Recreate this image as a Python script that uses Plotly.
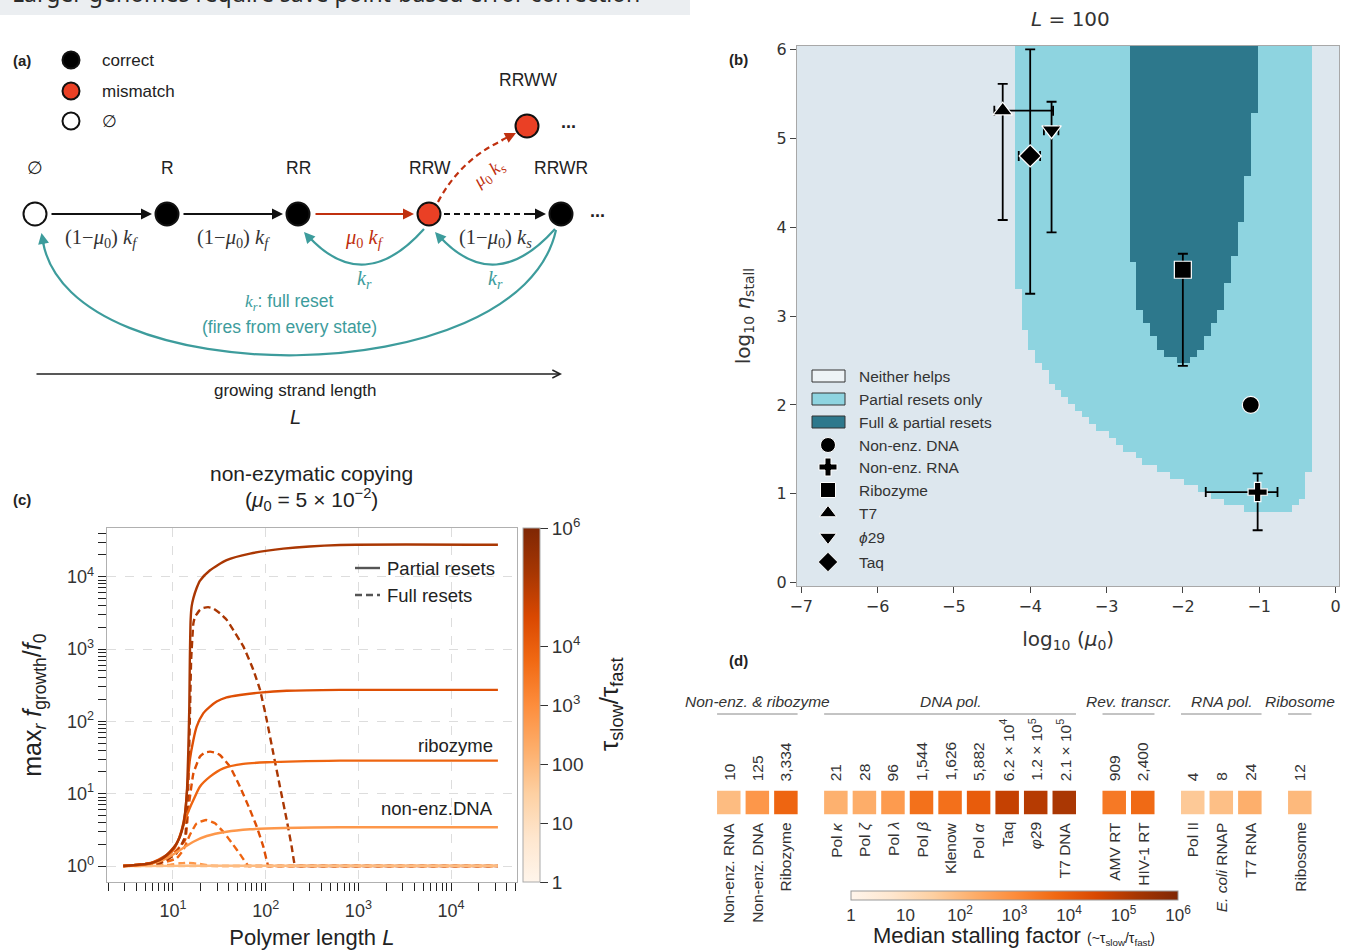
import numpy as np
import plotly.graph_objects as go

W, H = 1351, 950
SANS = "Liberation Sans, Arial, sans-serif"
NARROW = "Liberation Sans Narrow, Arial Narrow, Liberation Sans, sans-serif"
DEJAVU = "DejaVu Sans, sans-serif"
SERIF = "Liberation Serif, DejaVu Serif, serif"


def px(x):
    return x / W


def py(y):
    return 1 - y / H


# ---------------- Panel (b): regime map at L = 100 ----------------
partial_x_edges = [-4.203, -4.11, -4.03, -3.94, -3.85, -3.76, -3.67, -3.59, -3.51, -3.41,
                   -3.32, -3.23, -3.14, -2.97, -2.88, -2.78, -2.61, -2.53, -2.34, -2.17,
                   -1.99, -1.80, -1.63, -1.46, -1.20, -0.57, -0.48, -0.40, -0.305]
partial_lo_eta = [3.30, 2.84, 2.62, 2.47, 2.39, 2.24, 2.17, 2.09, 2.01, 1.93,
                  1.86, 1.78, 1.71, 1.63, 1.55, 1.47, 1.40, 1.32, 1.25, 1.17,
                  1.10, 1.02, 0.94, 0.87, 0.80, 0.87, 0.94, 1.25]
full_x_edges = [-2.697, -2.61, -2.52, -2.43, -2.34, -2.25, -2.08, -1.90, -1.82, -1.72,
                -1.63, -1.55, -1.46, -1.37, -1.28, -1.20, -1.11, -1.015]
full_lo_eta = [3.61, 3.07, 2.92, 2.77, 2.62, 2.54, 2.47, 2.54, 2.62, 2.77,
               2.92, 3.07, 3.37, 3.67, 4.06, 4.58, 5.28]
map_x_range = [-7.055, 0.051]
map_y_range = [-0.037, 6.037]
region_labels = ["Neither helps", "Partial resets only", "Full &amp; partial resets"]
region_colors = ["#dde7ee", "#8ed4e0", "#2d788c"]

sys_names = ["Non-enz. DNA", "Non-enz. RNA", "Ribozyme", "T7", "<i>ϕ</i>29", "Taq"]
sys_symbols = ["circle", "cross", "square", "triangle-up", "triangle-down", "diamond"]
sys_log_mu = [-1.11, -1.02, -2.00, -4.36, -3.72, -4.00]
sys_log_eta = [2.00, 1.02, 3.52, 5.31, 5.09, 4.80]
sys_mu_err_minus = [0.0, 0.68, 0.0, 0.11, 0.10, 0.15]
sys_mu_err_plus = [0.0, 0.26, 0.0, 0.66, 0.09, 0.13]
sys_eta_err_plus = [0.0, 0.21, 0.18, 0.30, 0.32, 1.20]
sys_eta_err_minus = [0.0, 0.43, 1.08, 1.23, 1.15, 1.55]

# ---------------- Panel (c): max growth vs polymer length ----------------
curve_tau = [10, 125, 3334, 1.5e4, 2.1e5]   # tau_slow/tau_fast of each curve (light -> dark)

L_part = [
    [2.91, 10, 20, 40, 634, 32000],
    [2.91, 5.65, 8.55, 11.9, 16.6, 23.1, 37.9, 67.8, 155, 634, 32000],
    [2.91, 5.65, 8.55, 10.1, 11.9, 14.1, 16.6, 19.5, 25.1, 34.9, 57.4, 102.6, 634, 32000],
    [2.91, 5.65, 8.55, 10.96, 12.4, 13.5, 14.3, 15.2, 16.6, 18.0, 21.2, 25.1, 29.6, 37.9,
     52.8, 86.9, 168.6, 634, 32000],
    [2.91, 5.65, 7.24, 8.55, 10.1, 10.96, 11.9, 12.9, 13.5, 14.1, 14.3, 14.6, 15.0, 15.2,
     15.5, 15.9, 16.6, 18.0, 19.5, 25.1, 37.9, 67.8, 155, 634, 32000],
]
f_part = [
    [1.0, 1.005, 1.01, 1.01, 1.01, 1.01],
    [1.0, 1.066, 1.277, 1.66, 2.17, 2.60, 2.98, 3.22, 3.36, 3.43, 3.43],
    [1.0, 1.08, 1.375, 1.66, 2.6, 5.03, 8.17, 12.5, 17.2, 22.4, 25.8, 27.2, 28.7, 28.7],
    [1.0, 1.09, 1.42, 2.06, 3.15, 5.35, 12.5, 29.3, 55.4, 84.6, 129, 160, 188, 215,
     232, 250, 265, 273, 273],
    [1.0, 1.09, 1.21, 1.42, 1.76, 2.06, 2.55, 3.69, 5.35, 10.1, 15.5, 36.3, 160, 709,
     2540, 3890, 5060, 6980, 8770, 12300, 17000, 20900, 24500, 27500, 27700],
]
L_full = [
    [2.91, 32000],
    [2.91, 8.55, 11.9, 14.1, 19.5, 25.1, 32.1, 36.0, 32000],
    [2.91, 8.55, 10.96, 12.9, 15.2, 18.0, 22.7, 28.4, 34.9, 44.8, 55.1, 65.0, 68.0, 32000],
    [2.91, 8.55, 13.5, 14.6, 16.6, 19.5, 22.0, 25.1, 28.5, 32.1, 41.2, 52.8, 67.8, 80.0,
     94.4, 106.7, 111.0, 32000],
    [2.91, 7.24, 10.96, 13.5, 14.6, 15.2, 15.7, 16.6, 17.3, 19.5, 21.2, 24.0, 27.2, 32.1,
     37.9, 44.8, 57.4, 73.5, 86.9, 102.6, 120.8, 142.6, 168.6, 190.8, 207, 214, 32000],
]
f_full = [
    [1.0, 1.0],
    [1.0, 1.03, 1.09, 1.11, 1.066, 1.01, 1.0, 1.0, 1.0],
    [1.0, 1.148, 1.277, 1.66, 2.69, 3.89, 4.33, 3.89, 2.98, 1.95, 1.35, 1.0, 1.0, 1.0],
    [1.0, 1.21, 2.29, 5.96, 19.1, 32.5, 37.0, 38.2, 37.0, 34.3, 23.7, 12.5, 5.96, 3.50,
     1.85, 1.0, 1.0, 1.0],
    [1.0, 1.09, 1.50, 2.55, 12.5, 104.7, 709, 2270, 2810, 3470, 3700, 3800, 3640, 3120,
     2540, 1826, 1088, 518, 273, 104.7, 36.3, 12.5, 4.33, 1.85, 1.0, 1.0, 1.0],
]

# ---------------- Panel (d): median stalling factors ----------------
group_names = ["Non-enz. &amp; ribozyme", "DNA pol.", "Rev. transcr.", "RNA pol.", "Ribosome"]
group_sizes = [3, 9, 2, 3, 1]
enz_names = ["Non-enz. RNA", "Non-enz. DNA", "Ribozyme",
             "Pol <i>κ</i>", "Pol <i>ζ</i>", "Pol <i>λ</i>", "Pol <i>β</i>", "Klenow", "Pol <i>α</i>",
             "Taq", "<i>φ</i>29", "T7 DNA",
             "AMV RT", "HIV-1 RT",
             "Pol II", "<i>E. coli</i> RNAP", "T7 RNA",
             "Ribosome"]
stall_factor = [10, 125, 3334, 21, 28, 96, 1544, 1626, 5882, 6.2e4, 1.2e5, 2.1e5,
                909, 2400, 4, 8, 24, 12]
stall_text = ["10", "125", "3,334", "21", "28", "96", "1,544", "1,626", "5,882",
              "6.2 × 10<sup>4</sup>", "1.2 × 10<sup>5</sup>", "2.1 × 10<sup>5</sup>",
              "909", "2,400", "4", "8", "24", "12"]

# ---------------- colour helpers ----------------
ORANGES = ['#fff5eb', '#fee6ce', '#fdd0a2', '#fdae6b', '#fd8d3c',
           '#f16913', '#d94801', '#a63603', '#7f2704']


def _rgb(h):
    h = h.lstrip('#')
    return [int(h[i:i + 2], 16) for i in (0, 2, 4)]


def oranges(t):
    t = min(max(t, 0.0), 1.0) * (len(ORANGES) - 1)
    i = min(int(t), len(ORANGES) - 2)
    f = t - i
    a, b = _rgb(ORANGES[i]), _rgb(ORANGES[i + 1])
    return 'rgb(%d,%d,%d)' % tuple(round(x + (y - x) * f) for x, y in zip(a, b))


def tau_color(v):
    return oranges(0.2 + 0.75 * np.log10(v) / 6.0)


trunc_oranges = [[k / 20, oranges(0.2 + 0.75 * k / 20)] for k in range(21)]

fig = go.Figure()

# ---------- (b) heatmap ----------
xe = sorted(set(map_x_range + partial_x_edges + full_x_edges))
ye = sorted(set(map_y_range + partial_lo_eta + full_lo_eta))
z = []
for j in range(len(ye) - 1):
    yc = 0.5 * (ye[j] + ye[j + 1])
    row = []
    for i in range(len(xe) - 1):
        xc = 0.5 * (xe[i] + xe[i + 1])
        v = 0
        k = int(np.searchsorted(partial_x_edges, xc)) - 1
        if 0 <= k < len(partial_lo_eta) and yc >= partial_lo_eta[k]:
            v = 1
        k2 = int(np.searchsorted(full_x_edges, xc)) - 1
        if 0 <= k2 < len(full_lo_eta) and yc >= full_lo_eta[k2]:
            v = 2
        row.append(v)
    z.append(row)
disc = [[0, region_colors[0]], [1 / 3, region_colors[0]], [1 / 3, region_colors[1]],
        [2 / 3, region_colors[1]], [2 / 3, region_colors[2]], [1, region_colors[2]]]
fig.add_trace(go.Heatmap(x=xe, y=ye, z=z, zmin=0, zmax=2, colorscale=disc, showscale=False,
                         xaxis='x', yaxis='y', hoverinfo='skip'))

for n, s, mx, my, mxm, mxp, myp, mym in zip(sys_names, sys_symbols, sys_log_mu, sys_log_eta,
                                           sys_mu_err_minus, sys_mu_err_plus,
                                           sys_eta_err_plus, sys_eta_err_minus):
    fig.add_trace(go.Scatter(
        x=[mx], y=[my], mode='markers', name=n, showlegend=False, xaxis='x', yaxis='y',
        marker=dict(symbol=s, size=17 if s != 'cross' else 16, color='black',
                    line=dict(color='white', width=1.2)),
        error_x=dict(type='data', symmetric=False, array=[mxp], arrayminus=[mxm],
                     color='black', thickness=1.8, width=5, visible=(mxp + mxm) > 0),
        error_y=dict(type='data', symmetric=False, array=[myp], arrayminus=[mym],
                     color='black', thickness=1.8, width=5, visible=(myp + mym) > 0)))

# ---------- (c) curves ----------
for k in range(len(curve_tau)):
    col = tau_color(curve_tau[k])
    fig.add_trace(go.Scatter(x=L_full[k], y=f_full[k], mode='lines', xaxis='x2', yaxis='y2',
                             showlegend=False,
                             line=dict(color=col, width=2.4, dash='7px,4px', shape='spline',
                                       smoothing=0.35)))
for k in range(len(curve_tau)):
    col = tau_color(curve_tau[k])
    fig.add_trace(go.Scatter(x=L_part[k], y=f_part[k], mode='lines', xaxis='x2', yaxis='y2',
                             showlegend=False,
                             line=dict(color=col, width=2.4, shape='spline', smoothing=0.6)))
fig.add_trace(go.Scatter(x=[None], y=[None], mode='markers', xaxis='x2', yaxis='y2',
                         showlegend=False, marker=dict(color=[0], coloraxis='coloraxis')))

# ---------- (d) squares ----------
positions = []
p = 0.0
for gi, gs in enumerate(group_sizes):
    for _ in range(gs):
        positions.append(p)
        p += 1.0
    p += 0.75
fig.add_trace(go.Scatter(x=positions, y=[0] * len(positions), mode='markers', xaxis='x3',
                         yaxis='y3', showlegend=False,
                         marker=dict(symbol='square', size=23.5, color=np.log10(stall_factor),
                                     colorscale=trunc_oranges, cmin=0, cmax=6,
                                     line=dict(width=0))))
fig.add_trace(go.Scatter(x=[None], y=[None], mode='markers', xaxis='x3', yaxis='y3',
                         showlegend=False, marker=dict(color=[0], coloraxis='coloraxis2')))

# ---------- canvas (pixel coordinates) for panel (a) & legends ----------
RED = '#ea4025'
RED_DARK = '#c0300f'
TEAL = '#3d9c9c'
node_x = [35, 167, 298, 429, 561, 527]
node_y = [214, 214, 214, 214, 214, 126]
node_fill = ['white', 'black', 'black', RED, 'black', RED]
fig.add_trace(go.Scatter(x=node_x, y=node_y, mode='markers', xaxis='x4', yaxis='y4',
                         showlegend=False,
                         marker=dict(size=23, color=node_fill, line=dict(color='#111', width=2))))
fig.add_trace(go.Scatter(x=[71, 71, 71], y=[60, 91, 121], mode='markers', xaxis='x4', yaxis='y4',
                         showlegend=False,
                         marker=dict(size=17, color=['black', RED, 'white'],
                                     line=dict(color='#111', width=2))))
leg_b_y = [376, 399, 422, 445, 467, 490, 513, 537, 562]
fig.add_trace(go.Scatter(x=[828] * 6, y=leg_b_y[3:], mode='markers', xaxis='x4', yaxis='y4',
                         showlegend=False,
                         marker=dict(symbol=sys_symbols, size=15, color='black',
                                     line=dict(color='white', width=1))))

shapes = []
ann = []


def T(text, x, y, size=17, color='#222', family=SANS, xa='center', ya='middle', angle=0,
      xref='x4', yref='y4'):
    ann.append(dict(text=text, x=x, y=y, xref=xref, yref=yref, showarrow=False,
                    font=dict(size=size, color=color, family=family),
                    xanchor=xa, yanchor=ya, textangle=angle))


def A(x0, y0, x1, y1, color, width=2.0, head=2, size=1.1):
    ann.append(dict(text='', x=x1, y=y1, ax=x0, ay=y0, xref='x4', yref='y4', axref='x4',
                    ayref='y4', showarrow=True, arrowhead=head, arrowsize=size,
                    arrowwidth=width, arrowcolor=color, standoff=0,
                    font=dict(size=10)))


# top banner
shapes.append(dict(type='rect', xref='x4', yref='y4', x0=0, x1=690, y0=-20, y1=15,
                   fillcolor='#ebeef1', line=dict(width=0), layer='below'))
T("Larger genomes require save point-based error correction", 10, 11.5, size=23,
  color='#2a2a2a', family="Noto Sans, Open Sans, sans-serif", xa='left', ya='bottom')

# panel labels
for lab, x, y in [("(a)", 22, 60), ("(b)", 738, 59), ("(c)", 22, 499), ("(d)", 738, 660)]:
    T("<b>%s</b>" % lab, x, y, size=15)

# panel (a) legend
T("correct", 100, 60, xa='left')
T("mismatch", 100, 91, xa='left')
T("∅", 100, 121, xa='left')
# node labels
for lab, x, y in [("∅", 35, 168), ("R", 167, 168), ("RR", 298, 168), ("RRW", 430, 168),
                  ("RRWR", 561, 168), ("RRWW", 528, 80)]:
    T(lab, x, y, size=17.5)
T("<b>...</b>", 597, 211, size=18)
T("<b>...</b>", 568, 122, size=18)
# forward arrows
A(50, 214, 152, 214, '#111')
A(182, 214, 283, 214, '#111')
A(314, 214, 414, 214, RED_DARK)
shapes.append(dict(type='line', xref='x4', yref='y4', x0=444, y0=214, x1=534, y1=214,
                   line=dict(color='#111', width=2.2, dash='6px,4px')))
A(528, 214, 546, 214, '#111')
shapes.append(dict(type='path', xref='x4', yref='y4', path='M 438 202 Q 460 160 503 140',
                   line=dict(color=RED_DARK, width=2.2, dash='6px,4px')))
A(500, 141, 516, 133, RED_DARK)
# rate labels
KF = "(1−<i>μ</i><sub>0</sub>) <i>k<sub>f</sub></i>"
T(KF, 101, 238, size=20.5, family=SERIF, color='#333')
T(KF, 233, 238, size=20.5, family=SERIF, color='#333')
T("<i>μ</i><sub>0</sub> <i>k<sub>f</sub></i>", 364, 238, size=20.5, family=SERIF, color=RED_DARK)
T("(1−<i>μ</i><sub>0</sub>) <i>k<sub>s</sub></i>", 495, 238, size=20.5, family=SERIF, color='#333')
T("<i>μ</i><sub>0</sub> <i>k<sub>s</sub></i>", 489, 174, size=18, family=SERIF, color=RED_DARK,
  angle=-38)
# reset arcs
shapes.append(dict(type='path', xref='x4', yref='y4', path='M 424 229 Q 364 296 309 237',
                   line=dict(color=TEAL, width=2.2)))
A(312, 241, 304, 232, TEAL)
shapes.append(dict(type='path', xref='x4', yref='y4', path='M 555 229 Q 495 296 440 237',
                   line=dict(color=TEAL, width=2.2)))
A(443, 241, 435, 232, TEAL)
shapes.append(dict(type='path', xref='x4', yref='y4', path='M 556 230 C 520 395 70 395 43 242',
                   line=dict(color=TEAL, width=2.2)))
A(44, 246, 41.5, 233, TEAL)
T("<i>k<sub>r</sub></i>", 364, 279, size=20, family=SERIF, color=TEAL)
T("<i>k<sub>r</sub></i>", 495, 279, size=20, family=SERIF, color=TEAL)
T("<span style='font-family:Liberation Serif'><i>k<sub>r</sub></i></span>: full reset", 289, 302,
  size=17.5, color=TEAL)
T("(fires from every state)", 289, 327, size=17.5, color=TEAL)
# length axis arrow
A(35, 374, 562, 374, '#222', width=1.3, head=5, size=1.2)
T("growing strand length", 295, 390, size=17)
T("<i>L</i>", 295, 417, size=20)

# ---------- panel (b) extras ----------
T("<i>L</i> = 100", 1070, 19, size=20, family=DEJAVU, color='#333')
for lab, col, yc in zip(region_labels, region_colors, leg_b_y[:3]):
    shapes.append(dict(type='rect', xref='x4', yref='y4', x0=812, x1=845, y0=yc - 6, y1=yc + 6,
                       fillcolor=col if col != region_colors[0] else '#eef3f6',
                       line=dict(color='#333', width=1)))
for lab, yc in zip(region_labels + sys_names, leg_b_y):
    T(lab, 857, yc, size=15.5, color='#333', xa='left')

# ---------- panel (c) extras ----------
T("non-ezymatic copying", 311, 473, size=21, family=NARROW)
T("(<i>μ</i><sub>0</sub> = 5 × 10<sup>−2</sup>)", 311, 499, size=21, family=NARROW)
shapes.append(dict(type='line', xref='x4', yref='y4', x0=355, x1=380, y0=568, y1=568,
                   line=dict(color='#555', width=2.4)))
shapes.append(dict(type='line', xref='x4', yref='y4', x0=355, x1=380, y0=595, y1=595,
                   line=dict(color='#555', width=2.4, dash='7px,4px')))
T("Partial resets", 385, 568, size=18.5, family=NARROW, xa='left')
T("Full resets", 385, 595, size=18.5, family=NARROW, xa='left')
T("ribozyme", 495, 745, size=18.5, family=NARROW, xa='right')
T("non-enz.DNA", 495, 808, size=18.5, family=NARROW, xa='right')
T("τ<sub>slow</sub>/τ<sub>fast</sub>", 610, 704, size=26, family=NARROW, angle=-90)
shapes.append(dict(type='line', xref='x2 domain', yref='y2', x0=0, x1=1, y0=0, y1=0,
                   line=dict(color='#c8c8c8', width=1, dash='dot'), layer='below'))

# ---------- panel (d) extras ----------
start = 0
for gname, gs in zip(group_names, group_sizes):
    p0, p1 = positions[start], positions[start + gs - 1]
    T("<i>%s</i>" % gname, 0.5 * (p0 + p1), 701, size=15.5, color='#333', xref='x3')
    shapes.append(dict(type='line', xref='x3', yref='y4', x0=p0 - 0.41, x1=p1 + 0.41, y0=714,
                       y1=714, line=dict(color='#888', width=1)))
    start += gs
for pos, vt, nm in zip(positions, stall_text, enz_names):
    T(vt, pos, 783, size=15.5, color='#333', xref='x3', ya='bottom', angle=-90)
    T(nm, pos, 820, size=15.5, color='#333', xref='x3', ya='top', angle=-90)
T("Median stalling factor <span style='font-size:14px'>(~τ<sub>slow</sub>/τ<sub>fast</sub>)</span>",
  1014, 935, size=22, family=NARROW)

axis_b = dict(showline=True, mirror=True, linecolor='#a8a8a8', linewidth=1.2, ticks='outside',
              ticklen=6, tickwidth=1.2, tickcolor='#444', showgrid=False, zeroline=False,
              dtick=1, automargin=False, tickfont=dict(family=DEJAVU, size=16, color='#333'))
minor_L = [m * 10 ** e for e in range(0, 5) for m in range(2, 10) if 2 <= m * 10 ** e <= 50000]
minor_f = [m * 10 ** e for e in range(0, 5) for m in range(2, 10) if m * 10 ** e <= 50000]
axis_c = dict(type='log', showline=True, mirror=True, linecolor='#b0b0b0', linewidth=1.2,
              ticks='outside', ticklen=8, tickwidth=1.4, tickcolor='#222', showgrid=True,
              gridcolor='#dddddd', griddash='dash', gridwidth=1.3, zeroline=False,
              automargin=False, tickfont=dict(family=NARROW, size=18, color='#333'))

fig.update_layout(
    width=W, height=H, margin=dict(l=0, r=0, t=0, b=0, pad=0, autoexpand=False),
    paper_bgcolor='white', plot_bgcolor='rgba(0,0,0,0)',
    font=dict(family=SANS, color='#333'), showlegend=False,
    xaxis=dict(domain=[px(797), px(1339.4)], range=map_x_range, anchor='y', **axis_b,
               title=dict(text='log<sub>10</sub> (<i>μ</i><sub>0</sub>)', standoff=16,
                          font=dict(family=DEJAVU, size=20, color='#333'))),
    yaxis=dict(domain=[py(586), py(46)], range=map_y_range, anchor='x', **axis_b,
               title=dict(text='log<sub>10</sub> <i>η</i><sub>stall</sub>', standoff=20,
                          font=dict(family=DEJAVU, size=20, color='#333'))),
    xaxis2=dict(domain=[px(106.7), px(517)], range=[0.285, 4.711], anchor='y2', **axis_c,
                tickvals=[10, 100, 1000, 10000], ticklabelstandoff=4,
                ticktext=['10<sup>1</sup>', '10<sup>2</sup>', '10<sup>3</sup>', '10<sup>4</sup>'],
                minor=dict(tickmode='array', tickvals=minor_L, ticks='outside', ticklen=8,
                           tickcolor='#222', tickwidth=1.2, showgrid=False),
                title=dict(text='Polymer length <i>L</i>', standoff=14,
                           font=dict(family=NARROW, size=22, color='#222'))),
    yaxis2=dict(domain=[py(882), py(528.3)], range=[-0.221, 4.67], anchor='x2', **axis_c,
                tickvals=[1, 10, 100, 1000, 10000],
                ticktext=['10<sup>0</sup>', '10<sup>1</sup>', '10<sup>2</sup>', '10<sup>3</sup>',
                          '10<sup>4</sup>'],
                minor=dict(tickmode='array', tickvals=minor_f, ticks='outside', ticklen=8,
                           tickcolor='#222', tickwidth=1.2, showgrid=False),
                title=dict(text='max<sub><i>r</i></sub> <i>f</i><sub>growth</sub>/<i>f</i><sub>0</sub>',
                           standoff=18, font=dict(family=NARROW, size=25, color='#222'))),
    xaxis3=dict(domain=[px(680), px(1340)], range=[-1.709, 21.408], anchor='y3', visible=False),
    yaxis3=dict(domain=[py(826), py(779)], range=[-1, 1], anchor='x3', visible=False),
    xaxis4=dict(domain=[0, 1], range=[0, W], anchor='y4', visible=False, fixedrange=True),
    yaxis4=dict(domain=[0, 1], range=[H, 0], anchor='x4', visible=False, fixedrange=True),
    coloraxis=dict(colorscale='Oranges', cmin=0, cmax=6,
                   colorbar=dict(x=px(523), xanchor='left', xpad=0, y=py(705), yanchor='middle',
                                 len=354 / H, lenmode='fraction', thickness=17, ypad=0,
                                 outlinecolor='#aaaaaa', outlinewidth=1,
                                 tickvals=[0, 1, 2, 3, 4, 6],
                                 ticktext=['1', '10', '100', '10<sup>3</sup>', '10<sup>4</sup>',
                                           '10<sup>6</sup>'],
                                 ticks='outside', ticklen=8, tickcolor='#333',
                                 tickfont=dict(family=NARROW, size=19, color='#333'))),
    coloraxis2=dict(colorscale='Oranges', cmin=0, cmax=6,
                    colorbar=dict(orientation='h', x=px(1014.5), xanchor='center', xpad=0,
                                  y=py(891), yanchor='top', ypad=0, len=327, lenmode='pixels',
                                  thickness=9, outlinecolor='#999999', outlinewidth=1,
                                  tickvals=[0, 1, 2, 3, 4, 5, 6],
                                  ticktext=['1', '10', '10<sup>2</sup>', '10<sup>3</sup>',
                                            '10<sup>4</sup>', '10<sup>5</sup>', '10<sup>6</sup>'],
                                  ticks='',
                                  tickfont=dict(family=NARROW, size=17, color='#333'))),
    shapes=shapes, annotations=ann,
)

fig.write_html("out.html")
